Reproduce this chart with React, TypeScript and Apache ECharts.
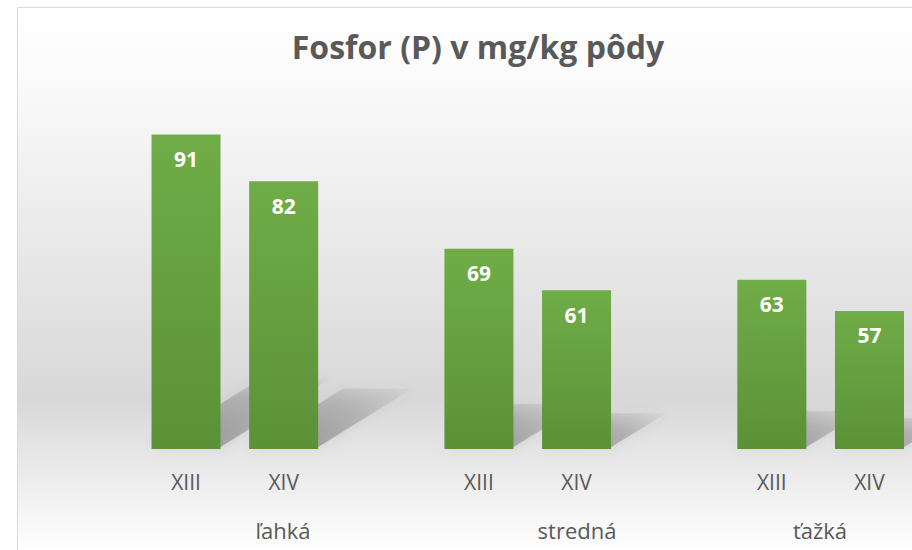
import React, { useEffect, useRef } from "react";
import * as echarts from "echarts";

const title = "Fosfor (P) v mg/kg pôdy";
const groups = ["ľahká", "stredná", "ťažká"];
const periods = ["XIII", "XIV"];
const valuesXIII = [91, 69, 63];
const valuesXIV = [82, 61, 57];
const axisMin = 30.4;
const axisMax = 99.2;

// Build slots: XIII, XIV, spacer, XIII, XIV, spacer, XIII, XIV
const slotLabels: string[] = [];
const slotValues: (number | null)[] = [];
groups.forEach((g, gi) => {
  if (gi > 0) {
    slotLabels.push("");
    slotValues.push(null);
  }
  const vals = [valuesXIII[gi], valuesXIV[gi]];
  periods.forEach((p, pi) => {
    slotLabels.push(p);
    slotValues.push(vals[pi]);
  });
});
const shadowData = slotValues
  .map((v, i) => (v == null ? null : [i, v]))
  .filter((d) => d != null) as number[][];

const BAR_RATIO = 0.707;
const FONT = "'Open Sans', 'Noto Sans', sans-serif";
const TEXT = "#595959";

export default function App() {
  const ref = useRef<HTMLDivElement>(null);
  useEffect(() => {
    if (!ref.current) return;
    const chart = echarts.init(ref.current, undefined, { renderer: "svg" });
    chart.setOption({
      animation: false,
      grid: { left: 137.2, right: 21.7, top: 92, bottom: 101 },
      xAxis: {
        type: "category",
        data: slotLabels,
        axisLine: { show: false },
        axisTick: { show: false },
        axisLabel: {
          color: TEXT,
          fontFamily: FONT,
          fontSize: 21,
          margin: 22,
          interval: 0,
        },
      },
      yAxis: {
        type: "value",
        min: axisMin,
        max: axisMax,
        show: false,
        splitLine: { show: false },
      },
      graphic: [
        {
          type: "rect",
          z: -10,
          shape: { x: 17.5, y: 7.5, width: 921, height: 560 },
          style: {
            fill: new echarts.graphic.LinearGradient(0, 0, 0, 1, [
              { offset: 0, color: "#ffffff" },
              { offset: 0.12, color: "#fbfbfb" },
              { offset: 0.7, color: "#d8d8d8" },
              { offset: 0.97, color: "#ffffff" },
              { offset: 1, color: "#ffffff" },
            ]),
            stroke: "#d9d9d9",
            lineWidth: 1,
          },
        },
        {
          type: "text",
          x: 478,
          y: 46,
          style: {
            text: title,
            fill: TEXT,
            font: `bold 32px ${FONT}`,
            textAlign: "center",
            textVerticalAlign: "middle",
          },
        },
        ...[
          [283, groups[0]],
          [577, groups[1]],
          [820, groups[2]],
        ].map(([x, t]) => ({
          type: "text",
          x: x as number,
          y: 530,
          style: {
            text: t as string,
            fill: TEXT,
            font: `22px ${FONT}`,
            textAlign: "center",
            textVerticalAlign: "middle",
          },
        })),
      ],
      series: [
        {
          type: "custom",
          z: 1,
          silent: true,
          data: shadowData,
          renderItem: (params: any, api: any) => {
            const idx = api.value(0);
            const v = api.value(1);
            const top = api.coord([idx, v]);
            const base = api.coord([idx, axisMin]);
            const w = api.size([1, 0])[0] * BAR_RATIO;
            const h = base[1] - top[1];
            const x0 = base[0] - w / 2;
            const x1 = base[0] + w / 2;
            const yb = base[1];
            const dx = 0.35 * h;
            const dy = 0.225 * h;
            return {
              type: "polygon",
              shape: {
                points: [
                  [x0, yb - 2],
                  [x1, yb - 2],
                  [x1 + dx, yb - dy],
                  [x0 + dx, yb - dy],
                ],
              },
              style: {
                fill: new echarts.graphic.LinearGradient(0, 1, 1, 0, [
                  { offset: 0, color: "rgba(80,80,80,0.5)" },
                  { offset: 0.6, color: "rgba(110,110,110,0.3)" },
                  { offset: 1, color: "rgba(150,150,150,0.08)" },
                ]),
                shadowBlur: 12,
                shadowColor: "rgba(110,110,110,0.45)",
              },
            };
          },
        },
        {
          type: "bar",
          z: 3,
          data: slotValues,
          barWidth: `${BAR_RATIO * 100}%`,
          itemStyle: {
            color: new echarts.graphic.LinearGradient(0, 0, 0, 1, [
              { offset: 0, color: "#6fad47" },
              { offset: 1, color: "#5b9137" },
            ]),
          },
          label: {
            show: true,
            position: "insideTop",
            distance: 14,
            color: "#ffffff",
            fontFamily: FONT,
            fontWeight: "bold",
            fontSize: 21,
          },
        },
      ],
    });
    return () => chart.dispose();
  }, []);
  return (
    <div
      style={{
        position: "fixed",
        left: 0,
        top: 0,
        width: 912,
        height: 550,
        overflow: "hidden",
        background: "#ffffff",
      }}
    >
      <div ref={ref} style={{ width: 940, height: 550 }} />
    </div>
  );
}
